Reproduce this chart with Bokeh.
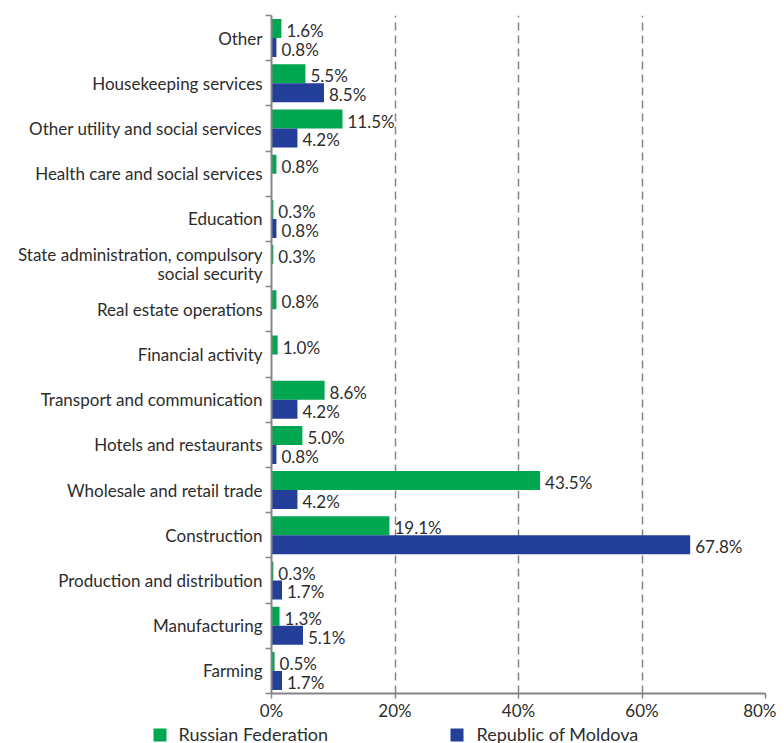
from bokeh.plotting import figure
from bokeh.layouts import column
from bokeh.models import (ColumnDataSource, FixedTicker, PrintfTickFormatter, Range1d)
from bokeh.core.properties import value
from bokeh.embed import file_html
from bokeh.resources import INLINE

categories = ["Other", "Housekeeping services", "Other utility and social services",
              "Health care and social services", "Education",
              "State administration, compulsory\nsocial security",
              "Real estate operations", "Financial activity",
              "Transport and communication", "Hotels and restaurants",
              "Wholesale and retail trade", "Construction",
              "Production and distribution", "Manufacturing", "Farming"]
russia = [1.6, 5.5, 11.5, 0.8, 0.3, 0.3, 0.8, 1.0, 8.6, 5.0, 43.5, 19.1, 0.3, 1.3, 0.5]
moldova = [0.8, 8.5, 4.2, None, 0.8, None, None, None, 4.2, 0.8, 4.2, 67.8, 1.7, 5.1, 1.7]
x_ticks = [0, 20, 40, 60, 80]
series_names = ["Russian Federation", "Republic of Moldova"]

GREEN = "#00A650"
BLUE = "#233F99"
FONT = "Lato"
FS = "17px"
TXT = "#2d2d2d"
GRAY = "#858585"

n = len(categories)
centers = [n - i - 0.5 for i in range(n)]
bh = 0.42

def build(vals, shift):
    ys, xs, labels = [], [], []
    for c, v in zip(centers, vals):
        if v is None:
            continue
        ys.append(c + shift)
        xs.append(v)
        labels.append(f"{v:.1f}%")
    return ColumnDataSource(dict(y=ys, x=xs, label=labels))

src_r = build(russia, bh / 2)
src_m = build(moldova, -bh / 2)

MAIN_H = 723
p = figure(width=776, height=MAIN_H, output_backend="svg", toolbar_location=None,
           x_range=Range1d(0, 80), y_range=Range1d(0, n),
           min_border_left=271, min_border_right=11, min_border_top=15,
           min_border_bottom=26)
p.outline_line_color = None
p.background_fill_color = "white"

p.hbar(y="y", right="x", left=0, height=bh, source=src_r, color=GREEN, line_color=None)
p.hbar(y="y", right="x", left=0, height=bh, source=src_m, color=BLUE, line_color=None)

for src in (src_r, src_m):
    p.text(x="x", y="y", text="label", source=src, x_offset=5, y_offset=2,
           text_baseline="middle", text_align="left",
           text_font=value(FONT), text_font_size=FS, text_color=TXT)

# x axis
p.xaxis.ticker = FixedTicker(ticks=x_ticks)
p.xaxis.formatter = PrintfTickFormatter(format="%d%%")
p.xaxis.axis_line_color = GRAY
p.xaxis.axis_line_width = 2
p.xaxis.major_tick_line_color = GRAY
p.xaxis.major_tick_line_width = 1.5
p.xaxis.major_tick_out = 5
p.xaxis.major_tick_in = 0
p.xaxis.minor_tick_line_color = None
p.xaxis.major_label_text_font = FONT
p.xaxis.major_label_text_font_size = FS
p.xaxis.major_label_text_color = TXT
p.xaxis.major_label_standoff = 1

# y axis
p.yaxis.ticker = FixedTicker(ticks=centers, minor_ticks=list(range(n + 1)))
p.yaxis.major_label_overrides = {c: name for c, name in zip(centers, categories)}
p.yaxis.axis_line_color = GRAY
p.yaxis.axis_line_width = 2
p.yaxis.major_tick_line_color = None
p.yaxis.major_tick_out = 0
p.yaxis.major_tick_in = 0
p.yaxis.minor_tick_line_color = GRAY
p.yaxis.minor_tick_line_width = 1.5
p.yaxis.minor_tick_out = 6
p.yaxis.minor_tick_in = 0
p.yaxis.major_label_text_font = FONT
p.yaxis.major_label_text_font_size = FS
p.yaxis.major_label_text_color = TXT
p.yaxis.major_label_text_line_height = 0.9
p.yaxis.major_label_standoff = 3

# grid
p.xgrid.ticker = FixedTicker(ticks=x_ticks[1:])
p.xgrid.grid_line_color = GRAY
p.xgrid.grid_line_width = 1.5
p.xgrid.grid_line_dash = "8 5"
p.ygrid.grid_line_color = None

# legend strip below the chart (coordinates in pixels)
LEG_H = 20
lf = figure(width=776, height=LEG_H, output_backend="svg", toolbar_location=None,
            x_range=Range1d(0, 776), y_range=Range1d(0, LEG_H), min_border=0)
lf.frame_align = False
lf.axis.visible = False
lf.grid.visible = False
lf.outline_line_color = None
leg_src = ColumnDataSource(dict(sx=[159.5, 456.5], tx=[178, 476], sy=[8.5, 8.5],
                                ty=[10, 10], color=[GREEN, BLUE], label=series_names))
lf.scatter(x="sx", y="sy", source=leg_src, marker="square", size=13,
           fill_color="color", line_color=None)
lf.text(x="tx", y="ty", text="label", source=leg_src, text_baseline="middle",
        text_align="left", text_font=value(FONT),
        text_font_size="18px", text_color=TXT)

layout = column(p, lf, spacing=0)
open("out.html", "w").write(file_html(layout, INLINE))
